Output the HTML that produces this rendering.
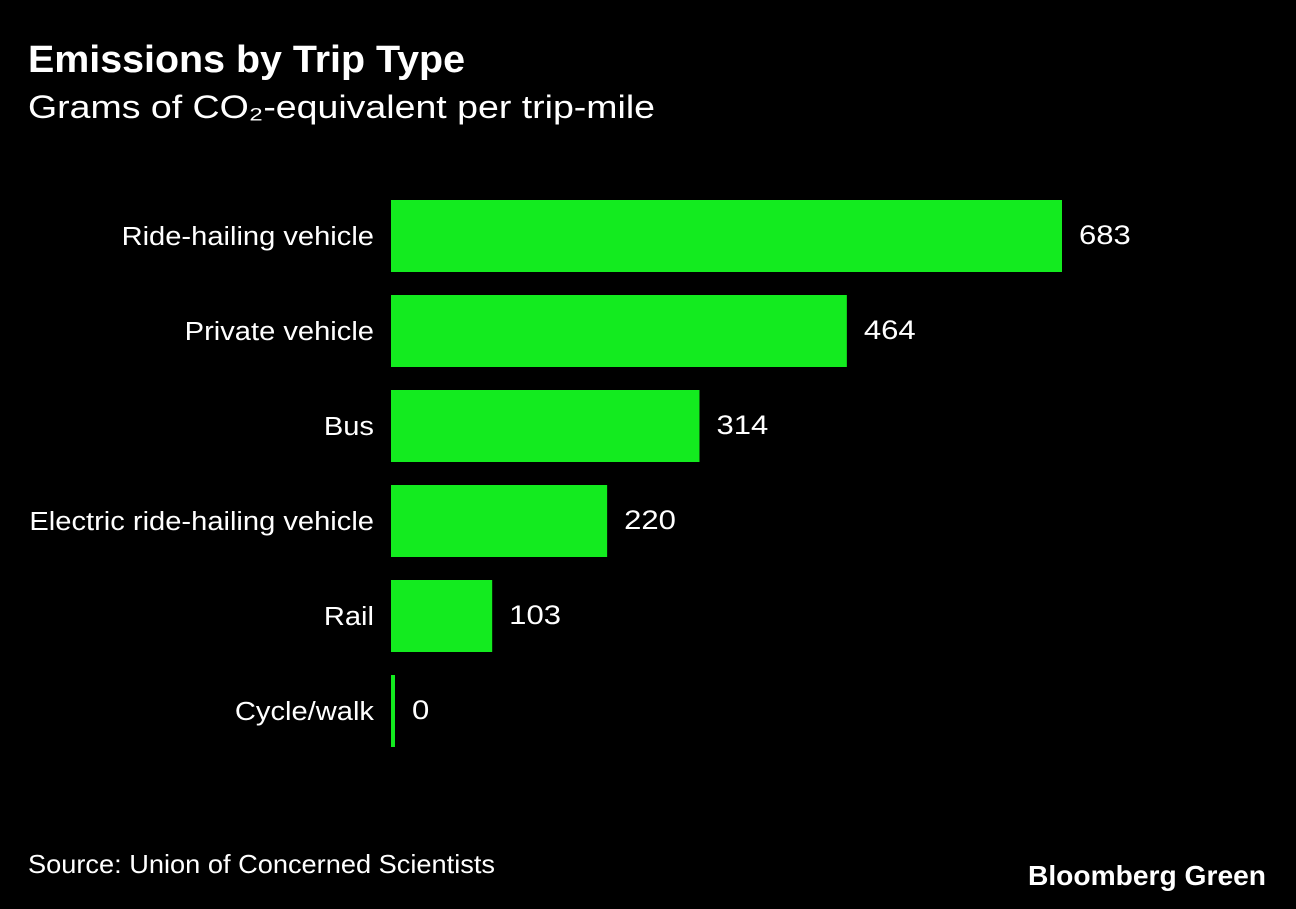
<!DOCTYPE html>
<html><head><meta charset="utf-8"><style>
body{margin:0;background:#000;width:1296px;height:904px;overflow:hidden;font-family:"Liberation Sans",sans-serif;color:#fff}
</style></head><body>
<svg width="1296" height="904" xmlns="http://www.w3.org/2000/svg" id="chart">
<rect width="1296" height="904" fill="#000"/>
<text x="28" y="72" font-size="38" font-weight="bold" fill="#fff" textLength="437" lengthAdjust="spacingAndGlyphs">Emissions by Trip Type</text>
<text x="28" y="118" font-size="32" fill="#fff" textLength="627" lengthAdjust="spacingAndGlyphs">Grams of CO₂-equivalent per trip-mile</text>
<g id="bars"></g>
<text x="28" y="873" font-size="26" fill="#fff" textLength="467" lengthAdjust="spacingAndGlyphs">Source: Union of Concerned Scientists</text>
<text x="1028" y="885" font-size="28" font-weight="bold" fill="#fff" textLength="238" lengthAdjust="spacingAndGlyphs">Bloomberg Green</text>
</svg>
<script>
const categories=["Ride-hailing vehicle","Private vehicle","Bus","Electric ride-hailing vehicle","Rail","Cycle/walk"];
const values=[683,464,314,220,103,0];
const x0=391, xScale=671/683;
function xPos(v){return x0+Math.max(v*xScale,4);}
function yPos(i){return 200+i*95;}
const g=document.getElementById('bars');
const ns="http://www.w3.org/2000/svg";
categories.forEach((c,i)=>{
  const r=document.createElementNS(ns,'rect');
  r.setAttribute('x',x0);r.setAttribute('y',yPos(i));
  r.setAttribute('width',xPos(values[i])-x0);r.setAttribute('height',72);
  r.setAttribute('fill','#13eb1f');
  
  
  g.appendChild(r);
  const l=document.createElementNS(ns,'text');
  l.setAttribute('x',374);l.setAttribute('y',yPos(i)+45);
  l.setAttribute('text-anchor','end');l.setAttribute('font-size','26');l.setAttribute('fill','#fff');
  l.setAttribute('transform','translate(374 0) scale(1.12 1) translate(-374 0)');
  l.textContent=c;
  
  
  g.appendChild(l);
  const vx=xPos(values[i])+17;
  const v=document.createElementNS(ns,'text');
  v.setAttribute('x',vx);v.setAttribute('y',yPos(i)+44);
  v.setAttribute('font-size','27');v.setAttribute('fill','#fff');
  v.setAttribute('transform','translate('+vx+' 0) scale(1.15 1) translate('+(-vx)+' 0)');
  v.textContent=values[i];
  
  
  g.appendChild(v);
});
</script>
</body></html>
